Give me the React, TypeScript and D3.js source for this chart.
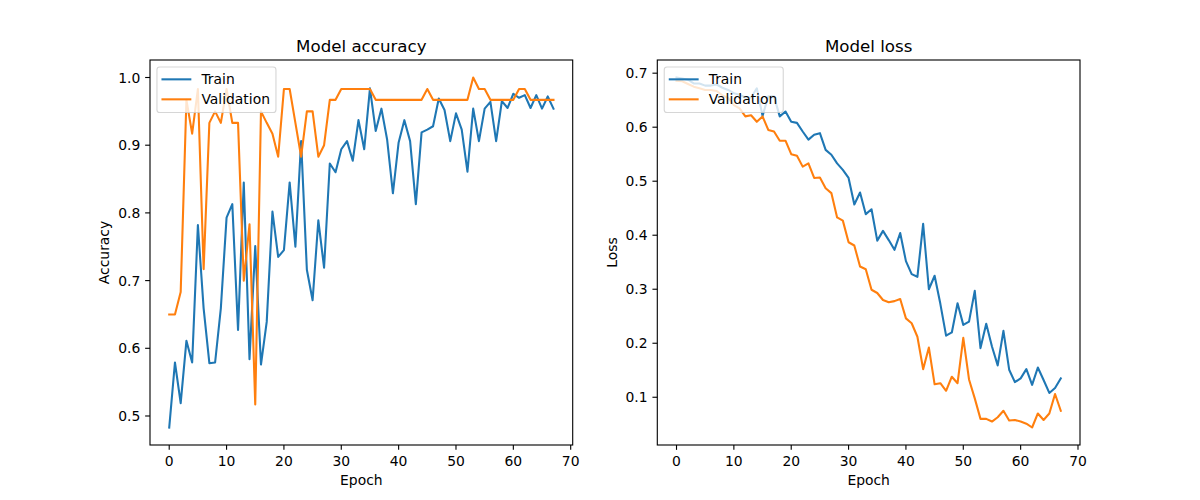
import React from "react";
import * as d3 from "d3";

const epochs: number[] = d3.range(68);

const trainAcc: number[] = [
  0.483, 0.579, 0.519, 0.611, 0.579, 0.782, 0.659, 0.578, 0.579, 0.659,
  0.793, 0.813, 0.627, 0.845, 0.584, 0.751, 0.576, 0.639, 0.802, 0.735,
  0.745, 0.845, 0.75, 0.906, 0.716, 0.671, 0.789, 0.719, 0.873, 0.86,
  0.894, 0.906, 0.877, 0.937, 0.894, 0.984, 0.921, 0.954, 0.908, 0.829,
  0.904, 0.937, 0.906, 0.813, 0.919, 0.923, 0.928, 0.969, 0.952, 0.906,
  0.947, 0.923, 0.861, 0.954, 0.906, 0.954, 0.964, 0.906, 0.965, 0.955,
  0.976, 0.97, 0.974, 0.955, 0.974, 0.954, 0.972, 0.954,
];

const valAcc: number[] = [
  0.65, 0.65, 0.683, 0.967, 0.917, 0.983, 0.717, 0.933, 0.95, 0.933,
  0.983, 0.933, 0.933, 0.7, 0.783, 0.517, 0.95, 0.933, 0.917, 0.883,
  0.983, 0.983, 0.933, 0.883, 0.95, 0.95, 0.883, 0.9, 0.967, 0.967,
  0.983, 0.983, 0.983, 0.983, 0.983, 0.983, 0.967, 0.967, 0.967, 0.967,
  0.967, 0.967, 0.967, 0.967, 0.967, 0.983, 0.967, 0.967, 0.967, 0.967,
  0.967, 0.967, 0.967, 1.0, 0.983, 0.983, 0.967, 0.967, 0.967, 0.967,
  0.967, 0.983, 0.983, 0.967, 0.967, 0.967, 0.967, 0.967,
];

const trainLoss: number[] = [
  0.692, 0.69, 0.688, 0.681, 0.681, 0.677, 0.677, 0.679, 0.673, 0.669,
  0.663, 0.66, 0.655, 0.655, 0.672, 0.621, 0.657, 0.657, 0.62, 0.629,
  0.61, 0.608, 0.592, 0.577, 0.586, 0.589, 0.558, 0.549, 0.533, 0.521,
  0.506, 0.457, 0.479, 0.439, 0.448, 0.39, 0.408, 0.391, 0.373, 0.404,
  0.352, 0.328, 0.323, 0.421, 0.3, 0.325, 0.273, 0.214, 0.22, 0.274,
  0.234, 0.24, 0.297, 0.191, 0.236, 0.194, 0.159, 0.223, 0.151, 0.128,
  0.135, 0.152, 0.123, 0.155, 0.132, 0.108, 0.117, 0.135,
];

const valLoss: number[] = [
  0.686, 0.685, 0.68, 0.675, 0.672, 0.669, 0.669, 0.667, 0.659, 0.654,
  0.641, 0.635, 0.62, 0.622, 0.61, 0.62, 0.595, 0.592, 0.575, 0.575,
  0.55, 0.547, 0.527, 0.533, 0.506, 0.507, 0.487, 0.478, 0.433, 0.427,
  0.387, 0.381, 0.342, 0.337, 0.299, 0.293, 0.28, 0.276, 0.278, 0.282,
  0.246, 0.237, 0.212, 0.152, 0.192, 0.124, 0.126, 0.112, 0.138, 0.126,
  0.21, 0.133, 0.098, 0.06, 0.06, 0.055, 0.063, 0.075, 0.057, 0.058,
  0.055, 0.051, 0.044, 0.07, 0.058, 0.07, 0.106, 0.075,
];

const xTicks: number[] = [0, 10, 20, 30, 40, 50, 60, 70];
const accTicks: number[] = [0.5, 0.6, 0.7, 0.8, 0.9, 1.0];
const lossTicks: number[] = [0.1, 0.2, 0.3, 0.4, 0.5, 0.6, 0.7];
const seriesNames: string[] = ["Train", "Validation"];
const colors: string[] = ["#1f77b4", "#ff7f0e"];

const FONT = "DejaVu Sans";
const TOP = 60;
const BOTTOM = 445;
const TICK = 4.86;
const FS = 13.9;

function pad(ext: [number, number]): [number, number] {
  const r = ext[1] - ext[0];
  return [ext[0] - 0.05 * r, ext[1] + 0.05 * r];
}

type PanelProps = {
  x0: number;
  x1: number;
  title: string;
  ylabel: string;
  ylabelX: number;
  yTicks: number[];
  train: number[];
  val: number[];
};

function Panel({ x0, x1, title, ylabel, ylabelX, yTicks, train, val }: PanelProps) {
  const xScale = d3
    .scaleLinear()
    .domain(pad(d3.extent(epochs) as [number, number]))
    .range([x0, x1]);
  const allY = train.concat(val);
  const yScale = d3
    .scaleLinear()
    .domain(pad(d3.extent(allY) as [number, number]))
    .range([BOTTOM, TOP]);
  const line = d3
    .line<number>()
    .x((_, i) => xScale(epochs[i]))
    .y((d) => yScale(d));
  const series = [train, val];
  const lx = x0 + 6.94;
  const ly = TOP + 6.94;
  return (
    <g>
      {series.map((s, k) => (
        <path
          key={k}
          d={line(s) || ""}
          fill="none"
          stroke={colors[k]}
          strokeWidth={2.08}
          strokeLinejoin="round"
          strokeLinecap="square"
        />
      ))}
      <rect
        x={x0}
        y={TOP}
        width={x1 - x0}
        height={BOTTOM - TOP}
        fill="none"
        stroke="#000"
        strokeWidth={1.11}
      />
      {xTicks.map((t) => (
        <g key={"x" + t}>
          <line x1={xScale(t)} x2={xScale(t)} y1={BOTTOM} y2={BOTTOM + TICK} stroke="#000" strokeWidth={1.11} />
          <text x={xScale(t)} y={BOTTOM + 20.8} textAnchor="middle" fontSize={FS} fontFamily={FONT} fill="#000">
            {t}
          </text>
        </g>
      ))}
      {yTicks.map((t) => (
        <g key={"y" + t}>
          <line x1={x0 - TICK} x2={x0} y1={yScale(t)} y2={yScale(t)} stroke="#000" strokeWidth={1.11} />
          <text x={x0 - 2 * TICK} y={yScale(t) + 5} textAnchor="end" fontSize={FS} fontFamily={FONT} fill="#000">
            {t.toFixed(1)}
          </text>
        </g>
      ))}
      <text x={(x0 + x1) / 2} y={485} textAnchor="middle" fontSize={FS} fontFamily={FONT} fill="#000">
        Epoch
      </text>
      <text
        transform={`translate(${ylabelX},${(TOP + BOTTOM) / 2}) rotate(-90)`}
        textAnchor="middle"
        fontSize={FS}
        fontFamily={FONT}
        fill="#000"
      >
        {ylabel}
      </text>
      <text x={(x0 + x1) / 2} y={TOP - 8.33} textAnchor="middle" fontSize={16.67} fontFamily={FONT} fill="#000">
        {title}
      </text>
      <rect
        x={lx}
        y={ly}
        width={119}
        height={45.6}
        rx={2.8}
        fill="#fff"
        fillOpacity={0.8}
        stroke="#cccccc"
        strokeOpacity={0.8}
        strokeWidth={1.11}
      />
      {seriesNames.map((n, k) => {
        const cy = ly + 12.4 + k * 20;
        return (
          <g key={n}>
            <line x1={lx + 5.56} x2={lx + 5.56 + 27.8} y1={cy} y2={cy} stroke={colors[k]} strokeWidth={2.08} strokeLinecap="square" />
            <text x={lx + 5.56 + 27.8 + 11.1} y={cy + 5} fontSize={FS} fontFamily={FONT} fill="#000">
              {n}
            </text>
          </g>
        );
      })}
    </g>
  );
}

export default function App() {
  return (
    <svg
      width={1200}
      height={500}
      style={{ position: "absolute", left: 0, top: 0, background: "#fff" }}
    >
      <rect x={0} y={0} width={1200} height={500} fill="#fff" />
      <Panel
        x0={150}
        x1={572.7}
        title="Model accuracy"
        ylabel="Accuracy"
        ylabelX={109}
        yTicks={accTicks}
        train={trainAcc}
        val={valAcc}
      />
      <Panel
        x0={657.3}
        x1={1080}
        title="Model loss"
        ylabel="Loss"
        ylabelX={616.5}
        yTicks={lossTicks}
        train={trainLoss}
        val={valLoss}
      />
    </svg>
  );
}
